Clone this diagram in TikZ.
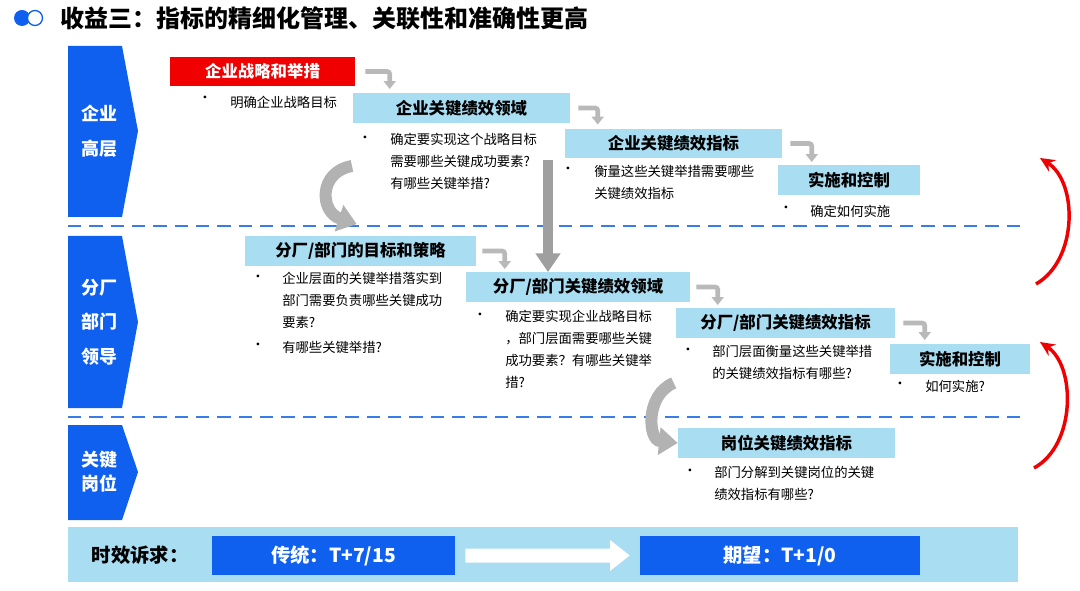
\documentclass[tikz,border=0pt]{standalone}
\usepackage{fontspec}
\setmainfont{Noto Sans CJK SC}
\usetikzlibrary{arrows.meta, positioning, calc}
\definecolor{MainBlue}{HTML}{1060F0}
\definecolor{LightBlue}{HTML}{A8DDF2}
\definecolor{StratRed}{HTML}{F00000}
\definecolor{DashBlue}{HTML}{3A7BEA}
\begin{document}
\begin{tikzpicture}[x=0.75pt, y=-0.75pt,
        kbox/.style={fill=LightBlue, minimum height=22pt, inner sep=0pt, font=\fontsize{12.3}{14}\selectfont\bfseries},
        txt/.style={anchor=north west, align=left, inner sep=0pt, font=\fontsize{10}{16.5}\selectfont},
        dot/.style={anchor=north, inner sep=0pt, font=\fontsize{10}{16.5}\selectfont},
        nextarrow/.style={draw=gray!55, line width=3.5pt, rounded corners=2pt, -{Triangle[length=6pt, width=9pt]}},
        cascade/.style={draw=gray!60, line width=9pt, -{Triangle[length=14pt, width=20pt]}},
        back/.style={draw=StratRed, line width=2.6pt, -{Stealth[length=11pt, width=10pt]}},
        sep/.style={DashBlue, line width=1.2pt, dash pattern=on 10pt off 6pt}]
    \useasboundingbox (0,0) rectangle (1080,591);

    % Title
    \fill[MainBlue] (22,18) circle (8);
    \draw[MainBlue, line width=1pt, fill=white] (35,18) circle (7.5);
    \node[anchor=west, inner sep=0pt, font=\fontsize{18}{20}\selectfont\bfseries] (title) at (60,18) {收益三：指标的精细化管理、关联性和准确性更高};

    % Level bands
    \fill[MainBlue] (68,46) -- (122,46) -- (138,131) -- (122,217) -- (68,217) -- cycle;
    \fill[MainBlue] (68,236) -- (122,236) -- (138,322) -- (122,408) -- (68,408) -- cycle;
    \fill[MainBlue] (68,425) -- (122,425) -- (138,472) -- (122,520) -- (68,520) -- cycle;
    \node[text=white, align=center, font=\fontsize{13.5}{26}\selectfont\bfseries] (lv1) at (99,131) {企业\\高层};
    \node[text=white, align=center, font=\fontsize{13.5}{26}\selectfont\bfseries] (lv2) at (99,322) {分厂\\部门\\领导};
    \node[text=white, align=center, font=\fontsize{13.5}{18}\selectfont\bfseries] (lv3) at (99,472) {关键\\岗位};

    % Separators
    \draw[sep] (68,226) -- (1020,226);
    \draw[sep] (68,417) -- (1020,417);

    % Top level
    \node[kbox, fill=StratRed, text=white, minimum width=138.75pt] (strat) at (262.5,71.5) {企业战略和举措};
    \node[kbox, minimum width=162.75pt] (kra) at (461.5,108) {企业关键绩效领域};
    \node[kbox, minimum width=162.75pt] (kpi) at (673.5,143.5) {企业关键绩效指标};
    \node[kbox, minimum width=106.5pt] (exec) at (849,180) {实施和控制};

    \node[dot] at (205,96) {•};
    \node[txt] at (230,96) {明确企业战略目标};
    \node[dot] at (365,136) {•};
    \node[txt] at (390,133) {确定要实现这个战略目标\\需要哪些关键成功要素?\\有哪些关键举措?};
    \node[dot] at (568,167) {•};
    \node[txt] at (594,165) {衡量这些关键举措需要哪些\\关键绩效指标};
    \node[dot] at (786,206) {•};
    \node[txt] at (810,205) {确定如何实施};

    % Middle level
    \node[kbox, minimum width=173.25pt] (dgoal) at (360.5,251) {分厂/部门的目标和策略};
    \node[kbox, minimum width=168pt] (dkra) at (578,287) {分厂/部门关键绩效领域};
    \node[kbox, minimum width=164.25pt] (dkpi) at (785.5,323) {分厂/部门关键绩效指标};
    \node[kbox, minimum width=105pt] (dexec) at (960,359) {实施和控制};

    \node[dot] at (258,275) {•};
    \node[txt] at (282,272) {企业层面的关键举措落实到\\部门需要负责哪些关键成功\\要素?};
    \node[dot] at (258,343) {•};
    \node[txt] at (282,341) {有哪些关键举措?};
    \node[dot] at (480,313) {•};
    \node[txt] at (505,310) {确定要实现企业战略目标\\，部门层面需要哪些关键\\成功要素？有哪些关键举\\措?};
    \node[dot] at (688,348) {•};
    \node[txt] at (712,345) {部门层面衡量这些关键举措\\的关键绩效指标有哪些?};
    \node[dot] at (900,382) {•};
    \node[txt] at (925,380) {如何实施?};

    % Bottom level
    \node[kbox, minimum width=162.75pt] (jkpi) at (786.5,443) {岗位关键绩效指标};
    \node[dot] at (690,469) {•};
    \node[txt] at (714,466) {部门分解到关键岗位的关键\\绩效指标有哪些?};

    % Step arrows
    \draw[nextarrow] ($(strat.east)+(10,0)$) -| ($(kra.north west)+(37,-4)$);
    \draw[nextarrow] ($(kra.east)+(8,0)$) -| ($(kpi.north west)+(33,-4)$);
    \draw[nextarrow] ($(kpi.east)+(8,0)$) -| ($(exec.north west)+(34,-3)$);
    \draw[nextarrow] ($(dgoal.east)+(6,0)$) -| ($(dkra.north west)+(39,-3)$);
    \draw[nextarrow] ($(dkra.east)+(6,0)$) -| ($(dkpi.north west)+(42,-3)$);
    \draw[nextarrow] ($(dkpi.east)+(8,0)$) -| ($(dexec.north west)+(35,-4)$);

    % Cascade arrows
    \coordinate (vtop) at (548,160);
    \draw[cascade] (352,166) .. controls (318,172) and (320,212) .. ($(dgoal.north west)+(112,-12)$);
    \draw[draw=gray!75, line width=7pt, -{Triangle[length=14pt, width=18pt]}] (vtop) -- (vtop |- dkra.north);
    \draw[cascade] ($(dkpi.south west)+(-2,45)$) .. controls (645,395) and (648,440) .. (jkpi.west);

    % Feedback arrows
    \coordinate (fb1a) at (1036,284);
    \coordinate (fb1b) at (1040,158);
    \coordinate (fb2a) at (1034,468);
    \coordinate (fb2b) at (1040,342);
    \draw[back] (fb1a) .. controls (1078,260) and (1078,182) .. (fb1b);
    \draw[back] (fb2a) .. controls (1076,445) and (1076,366) .. (fb2b);

    % Time band
    \fill[LightBlue] (68,527) rectangle (1018,582);
    \node[font=\fontsize{14.5}{16}\selectfont\bfseries] (req) at (140,555) {时效诉求：};
    \node[fill=MainBlue, text=white, minimum width=182.25pt, minimum height=29.25pt, inner sep=0pt, font=\fontsize{14.5}{16}\selectfont\bfseries] (old) at (333.5,555.5) {传统：T+7/15};
    \node[fill=MainBlue, text=white, minimum width=210pt, minimum height=29.25pt, inner sep=0pt, font=\fontsize{14.5}{16}\selectfont\bfseries] (new) at (780,555.5) {期望：T+1/0};
    \fill[white] ($(old.east)+(10,-7)$) -- (610,548.5) -- (610,540) -- ($(new.west)+(-10,0)$) -- (610,571) -- (610,562.5) -- ($(old.east)+(10,7)$) -- cycle;
\end{tikzpicture}
\end{document}
